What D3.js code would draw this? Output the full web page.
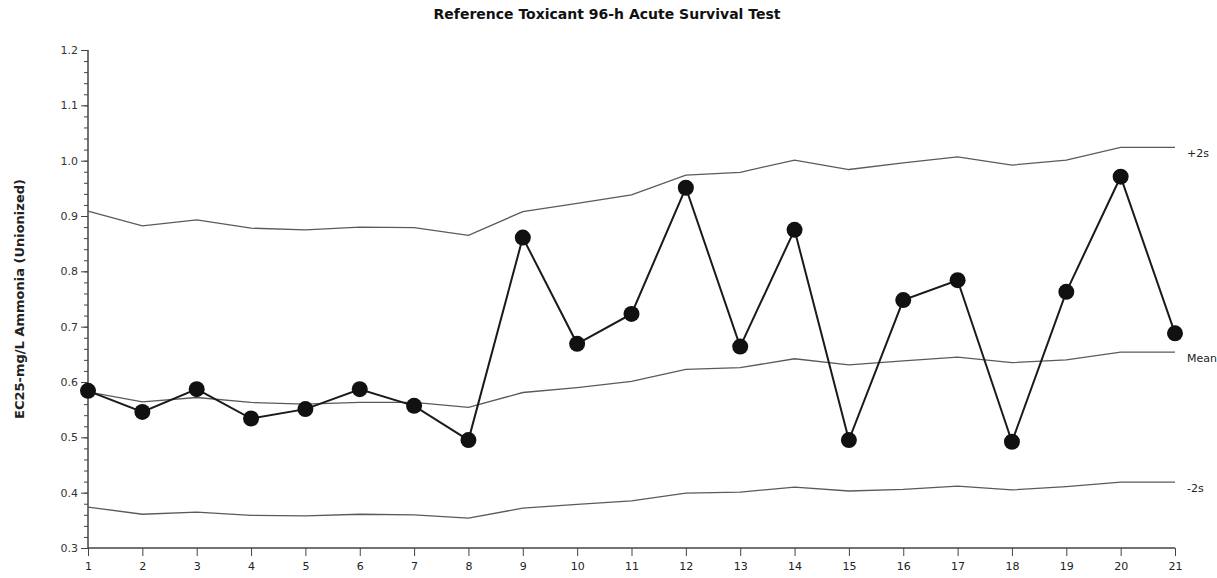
<!DOCTYPE html>
<html>
<head>
<meta charset="utf-8">
<script src="https://cdn.jsdelivr.net/npm/d3@7"></script>
<style>
  html, body { margin: 0; padding: 0; background: #fff; }
  svg { display: block; }
</style>
</head>
<body>
<svg id="chart" width="1217" height="578"></svg>
<script>
// Test numbers (x axis categories)
const tests = d3.range(1, 22);

// EC25 results, mg/L un-ionized ammonia
const ec25 = [0.584, 0.546, 0.587, 0.534, 0.551, 0.587, 0.557, 0.495, 0.861, 0.669,
              0.723, 0.951, 0.664, 0.875, 0.495, 0.748, 0.784, 0.492, 0.763, 0.971, 0.688];

// Running control limits
const upper2s = [0.909, 0.882, 0.893, 0.878, 0.875, 0.880, 0.879, 0.865, 0.908, 0.923,
                 0.938, 0.974, 0.979, 1.001, 0.984, 0.996, 1.007, 0.992, 1.001, 1.024, 1.024];
const meanLine = [0.582, 0.564, 0.572, 0.563, 0.560, 0.563, 0.563, 0.554, 0.581, 0.590,
                  0.601, 0.623, 0.626, 0.642, 0.631, 0.638, 0.645, 0.635, 0.640, 0.654, 0.654];
const lower2s = [0.374, 0.361, 0.365, 0.359, 0.358, 0.361, 0.360, 0.354, 0.372, 0.379,
                 0.385, 0.399, 0.401, 0.410, 0.403, 0.406, 0.412, 0.405, 0.411, 0.419, 0.419];

const yTicks = [0.3, 0.4, 0.5, 0.6, 0.7, 0.8, 0.9, 1.0, 1.1, 1.2];
const limitLabels = ["+2s", "Mean", "-2s"];

const title = "Reference Toxicant 96-h Acute Survival Test";
const yTitle = "EC25-mg/L Ammonia (Unionized)";

const svg = d3.select("#chart");
const margin = { left: 88, right: 1175, top: 50, bottom: 548 };

const x = d3.scaleLinear().domain([1, 21]).range([margin.left, margin.right]);
const y = d3.scaleLinear().domain([0.3, 1.2]).range([margin.bottom, margin.top]);

const font = "'DejaVu Sans', Verdana, sans-serif";
const axisColor = "#444";

// Title
svg.append("text")
  .attr("x", 607).attr("y", 19)
  .attr("text-anchor", "middle")
  .attr("font-family", font)
  .attr("font-weight", "bold")
  .attr("font-size", 14)
  .attr("fill", "#111")
  .text(title);

// Y-axis title
svg.append("text")
  .attr("transform", `translate(24,${(margin.top + margin.bottom) / 2}) rotate(-90)`)
  .attr("text-anchor", "middle")
  .attr("font-family", font)
  .attr("font-weight", "bold")
  .attr("font-size", 13)
  .attr("fill", "#222")
  .text(yTitle);

// Y axis: minor ticks every 0.02, labelled major ticks every 0.1
const yMinor = d3.range(0.3, 1.2001, 0.02).map(v => +v.toFixed(2));
const yAxisMinor = d3.axisLeft(y).tickValues(yMinor).tickSize(4).tickFormat("");
const gyMinor = svg.append("g").attr("transform", `translate(${margin.left},0)`).call(yAxisMinor);
gyMinor.select(".domain").remove();
gyMinor.selectAll("line").attr("stroke", axisColor);

const yAxis = d3.axisLeft(y).tickValues(yTicks).tickSize(7).tickPadding(3)
  .tickFormat(d3.format(".1f"));
const gy = svg.append("g").attr("transform", `translate(${margin.left},0)`).call(yAxis);
gy.select(".domain").attr("stroke", axisColor).attr("stroke-width", 1.5).attr("d", `M0,${margin.top}V${margin.bottom}`);
gy.selectAll("line").attr("stroke", axisColor);
gy.selectAll("text").attr("font-family", font).attr("font-size", 11).attr("fill", "#333");

// X axis
const xAxis = d3.axisBottom(x).tickValues(tests).tickSize(8).tickPadding(6).tickFormat(d3.format("d"));
const gx = svg.append("g").attr("transform", `translate(0,${margin.bottom})`).call(xAxis);
gx.select(".domain").attr("stroke", axisColor).attr("stroke-width", 1.5).attr("d", `M${margin.left},0H${margin.right}`);
gx.selectAll("line").attr("stroke", axisColor);
gx.selectAll("text").attr("font-family", font).attr("font-size", 11).attr("fill", "#222");

// Control limit lines
const line = d3.line().x((d, i) => x(tests[i])).y(d => y(d));
const limits = [upper2s, meanLine, lower2s];
limits.forEach((series, k) => {
  svg.append("path")
    .datum(series)
    .attr("d", line)
    .attr("fill", "none")
    .attr("stroke", "#5a5a5a")
    .attr("stroke-width", 1.3);
  svg.append("text")
    .attr("x", x(21) + 12)
    .attr("y", y(series[series.length - 1]) + 10)
    .attr("font-family", font)
    .attr("font-size", 11)
    .attr("fill", "#222")
    .text(limitLabels[k]);
});

// EC25 series
svg.append("path")
  .datum(ec25)
  .attr("d", line)
  .attr("fill", "none")
  .attr("stroke", "#1a1a1a")
  .attr("stroke-width", 2);

svg.selectAll("circle.pt")
  .data(ec25)
  .join("circle")
  .attr("class", "pt")
  .attr("cx", (d, i) => x(tests[i]))
  .attr("cy", d => y(d))
  .attr("r", 8)
  .attr("fill", "#111");
</script>
</body>
</html>
